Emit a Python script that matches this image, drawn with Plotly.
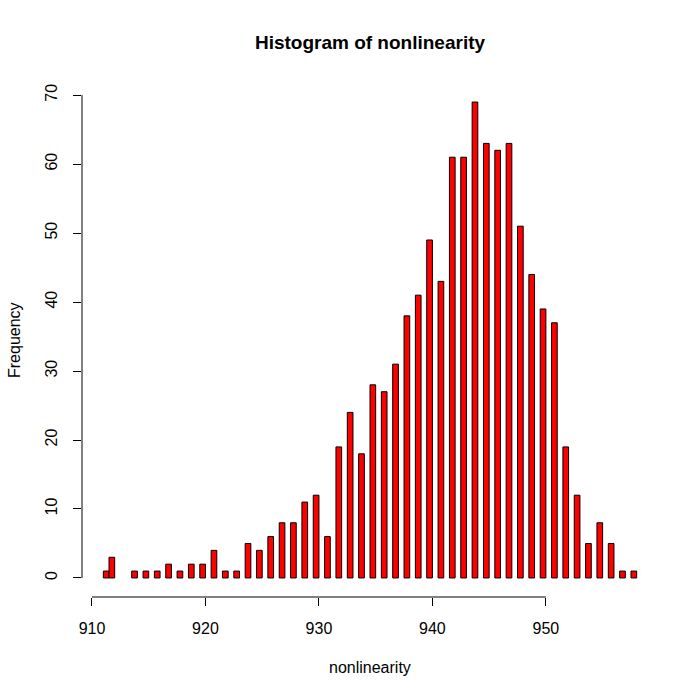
import plotly.graph_objects as go

# Data: nonlinearity value -> frequency (R hist, breaks every 0.5, right-closed, include.lowest)
values = list(range(911, 959))
counts = [1, 3, 0, 1, 1, 1, 2, 1, 2, 2, 4, 1, 1, 5, 4, 6, 8, 8, 11, 12, 6,
          19, 24, 18, 28, 27, 31, 38, 41, 49, 43, 61, 61, 69, 63, 62, 63,
          51, 44, 39, 37, 19, 12, 5, 8, 5, 1, 1]
bin_width = 0.5
x_ticks = [910, 920, 930, 940, 950]
y_ticks = [0, 10, 20, 30, 40, 50, 60, 70]

title = "Histogram of nonlinearity"
x_title = "nonlinearity"
y_title = "Frequency"

# bin centers: lowest value goes in [v, v+0.5], others in (v-0.5, v]
vmin = min(values)
centers = [v + bin_width / 2 if v == vmin else v - bin_width / 2 for v in values]
bar_heights = [c if c > 0 else None for c in counts]

lo, hi = vmin, max(values)
xr = [lo - 0.04 * (hi - lo), hi + 0.04 * (hi - lo)]
ymax = max(counts)
yr = [-0.04 * ymax, ymax * 1.04]

W, H = 700, 700
# target plot area on page: x 82..658, y 83..597
PL, PR, PT, PB = 82, 658, 83, 597
L, T = PL, PT
pw, ph = PR - PL, PB - PT
R = W - L - pw
B = H - T - ph

def px(x):
    return (x - PL) / pw

def py(y):
    return (PB - y) / ph

font = "Liberation Sans, Arial, Helvetica, sans-serif"

fig = go.Figure()
fig.add_trace(go.Bar(
    x=centers, y=bar_heights, width=bin_width,
    marker=dict(color="#FF0000", line=dict(color="black", width=1)),
    hoverinfo="x+y",
))

fig.update_layout(
    width=W, height=H,
    margin=dict(l=L, r=R, t=T, b=B),
    plot_bgcolor="white", paper_bgcolor="white",
    showlegend=False,
    font=dict(family=font, size=16, color="black"),
    title=dict(text="<b>" + title + "</b>", x=px(370), xref="paper",
               y=1 - 42 / H, yref="container", xanchor="center", yanchor="middle",
               font=dict(size=19, family=font, color="black")),
    xaxis=dict(range=xr, tickvals=x_ticks, ticktext=[str(t) for t in x_ticks],
               showgrid=False, zeroline=False, showline=False,
               ticks="outside", ticklen=8, tickcolor="black", tickwidth=1,
               ticklabelstandoff=9,
               tickfont=dict(size=16, family=font)),
    yaxis=dict(range=yr, tickvals=y_ticks, ticktext=[str(t) for t in y_ticks],
               showgrid=False, zeroline=False, showline=False,
               ticks="outside", ticklen=8, tickcolor="black", tickwidth=1,
               tickangle=-90, ticklabelstandoff=10,
               tickfont=dict(size=16, family=font)),
    shapes=[
        dict(type="line", xref="x", yref="paper", x0=x_ticks[0], x1=x_ticks[-1],
             y0=0, y1=0, line=dict(color="black", width=1)),
        dict(type="line", xref="paper", yref="y", x0=0, x1=0,
             y0=y_ticks[0], y1=y_ticks[-1], line=dict(color="black", width=1)),
    ],
    annotations=[
        dict(text=x_title, xref="paper", yref="paper", x=px(370), y=py(667),
             showarrow=False, xanchor="center", yanchor="middle",
             font=dict(size=16, family=font)),
        dict(text=y_title, xref="paper", yref="paper", x=px(14), y=py(340),
             showarrow=False, xanchor="center", yanchor="middle", textangle=-90,
             borderpad=0,
             font=dict(size=16, family=font)),
    ],
)

fig.write_html("out.html",
               config={"displayModeBar": False},
               post_script="document.body.style.margin='0';document.body.style.padding='0';")
